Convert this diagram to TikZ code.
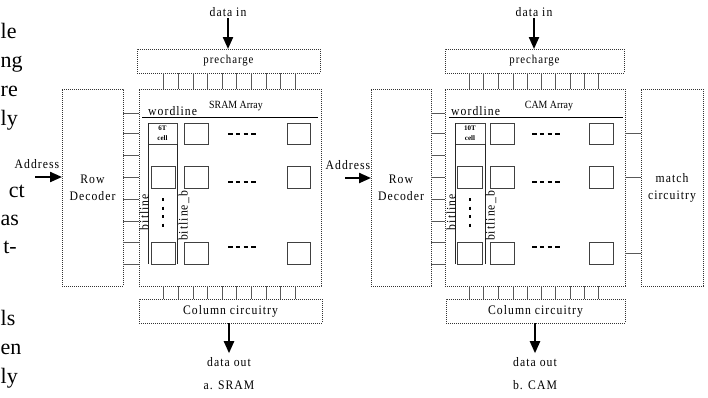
\documentclass[tikz,border=0pt]{standalone}
\usepackage{fontspec}
\setmainfont{Liberation Serif}
\newfontfamily\lblfamily[FakeStretch=0.9, LetterSpace=8]{Liberation Serif}
\newfontfamily\narrowserif[FakeStretch=0.9]{Liberation Serif}
\usetikzlibrary{arrows.meta}
\newcommand\lblfont{\lblfamily\fontsize{13}{17}\selectfont}
\begin{document}
\begin{tikzpicture}[x=1pt,y=-1pt,
  dbox/.style={draw=black!80, line width=0.6pt, dash pattern=on 0.9pt off 1.1pt, inner sep=0pt, outer sep=0pt, anchor=north west, font=\lblfont, align=center},
  cellbox/.style={draw=black!75, line width=0.9pt, inner sep=0pt, outer sep=0pt, anchor=north west, minimum width=24pt, minimum height=22pt},
  tick/.style={draw=black!65, line width=0.8pt},
  bigarrow/.style={line width=2.2pt, -{Triangle[length=12pt,width=10pt]}},
  lbl/.style={font=\lblfont, inner sep=1pt},
  prech/.style={font=\lblfamily\fontsize{12}{14}\selectfont},
  small/.style={font=\narrowserif\fontsize{11}{13}\selectfont, inner sep=1pt},
  celltxt/.style={align=center, font=\bfseries\fontsize{7}{10}\selectfont},
  frag/.style={font=\fontsize{22}{26}\selectfont, inner sep=0pt},
  hdots/.style={line width=2.6pt, dash pattern=on 4.5pt off 3.3pt},
  vdots/.style={line width=2.6pt, dash pattern=on 3pt off 5.5pt},
  bit/.style={draw=black!85, line width=0.8pt},
  wline/.style={draw=black, line width=0.8pt},
  ]
\useasboundingbox (0,0) rectangle (708,397);

% text fragments at the left margin
\node[frag, anchor=base west] (f1) at (0.5,38) {le};
\node[frag, anchor=base west] (f2) at (0.5,67) {ng};
\node[frag, anchor=base west] (f3) at (0.5,96) {re};
\node[frag, anchor=base west] (f4) at (0.5,125) {ly};
\node[frag, anchor=base east] (f5) at (25,197) {ct};
\node[frag, anchor=base west] (f6) at (0.5,225) {as};
\node[frag, anchor=base east] (f7) at (17,253) {t-};
\node[frag, anchor=base west] (f8) at (0.5,325) {ls};
\node[frag, anchor=base west] (f9) at (0.5,354) {en};
\node[frag, anchor=base west] (f10) at (0.5,383) {ly};

% ================= SRAM =================
\node[dbox, prech, minimum width=183pt, minimum height=24pt] (pre1) at (137,49) {precharge};
\node[dbox, minimum width=182pt, minimum height=197pt] (arr1) at (139,89) {};
\node[dbox, minimum width=183pt, minimum height=24pt] (col1) at (139,299) {Column circuitry};
\node[dbox, minimum width=61pt, minimum height=197pt] (rd1) at (62,89) {Row\\Decoder};

\node[lbl] (din1) at (228,12) {data in};
\draw[bigarrow] (din1.south) -- (din1.south |- pre1.north);
\node[lbl] (dout1) at (229,362) {data out};
\draw[bigarrow, shorten >=3pt] (dout1.north |- col1.south) -- (dout1.north);
\node[lbl] (cap1) at (229,385) {a. SRAM};

\node[lbl] (addr1) at (37,164) {Address};
\coordinate (ain1) at (35,177);
\draw[bigarrow] (ain1) -- (ain1 -| rd1.west);

\foreach \y in {113,133,155,177,199,221,242,264}
  \draw[tick] (rd1.east |- 0,\y) -- (arr1.west |- 0,\y);
\foreach \x in {163,178,193,207,222,236,251,266,280,295} {
  \draw[tick] (pre1.south -| \x,0) -- (arr1.north -| \x,0);
  \draw[tick] (arr1.south -| \x,0) -- (col1.north -| \x,0);
}

\node[lbl, anchor=base west, inner sep=0pt] (wl1) at (148,115) {wordline};
\coordinate (wlA1) at (142,117);
\coordinate (wlB1) at (318,117);
\draw[wline] (wlA1) -- (wlB1);
\node[small] (tit1) at (236,106) {SRAM Array};

\node[cellbox, minimum width=29pt, minimum height=21pt, celltxt] (c11a) at (148,123) {6T\\cell};
\node[cellbox, minimum height=21pt] (c12a) at (184,123) {};
\node[cellbox, minimum width=23pt, minimum height=21pt] (c13a) at (287,123) {};
\node[cellbox] (c21a) at (151,166) {};
\node[cellbox] (c22a) at (184,166) {};
\node[cellbox, minimum width=23pt] (c23a) at (287,166) {};
\node[cellbox] (c31a) at (151,242) {};
\node[cellbox] (c32a) at (184,242) {};
\node[cellbox, minimum width=23pt] (c33a) at (287,242) {};

\draw[hdots] (228,134) -- (257,134);
\draw[hdots] (228,182) -- (257,182);
\draw[hdots] (228,247) -- (257,247);
\draw[vdots] (163,198) -- (163,230);

\coordinate (blend1) at (148,264);
\draw[bit] (c11a.north west) -- (c11a.north west |- blend1);
\draw[bit] (c11a.south east) -- (c11a.south east |- blend1);
\node[lbl, rotate=90, anchor=south, inner sep=0pt] (blt1) at (149,212) {bitline};
\node[lbl, rotate=90, anchor=north, inner sep=0.3pt] (blb1) at (178,216) {bitline\_b};

% ================= CAM =================
\node[dbox, prech, minimum width=179pt, minimum height=24pt] (pre2) at (445,49) {precharge};
\node[dbox, minimum width=180pt, minimum height=197pt] (arr2) at (445,89) {};
\node[dbox, minimum width=179pt, minimum height=24pt] (col2) at (446,299) {Column circuitry};
\node[dbox, minimum width=60pt, minimum height=197pt] (rd2) at (371,89) {Row\\Decoder};
\node[dbox, minimum width=62pt, minimum height=197pt] (mc) at (641,89) {match\\circuitry};

\node[lbl] (din2) at (534,12) {data in};
\draw[bigarrow] (din2.south) -- (din2.south |- pre2.north);
\node[lbl] (dout2) at (535,362) {data out};
\draw[bigarrow, shorten >=3pt] (dout2.north |- col2.south) -- (dout2.north);
\node[lbl] (cap2) at (535,385) {b. CAM};

\node[lbl] (addr2) at (348,165) {Address};
\coordinate (ain2) at (345,178);
\draw[bigarrow] (ain2) -- (ain2 -| rd2.west);

\foreach \y in {113,133,155,177,199,221,242,264}
  \draw[tick] (rd2.east |- 0,\y) -- (arr2.west |- 0,\y);
\foreach \x in {469,483,498,513,527,541,555,570,584,598} {
  \draw[tick] (pre2.south -| \x,0) -- (arr2.north -| \x,0);
  \draw[tick] (arr2.south -| \x,0) -- (col2.north -| \x,0);
}
\foreach \y in {133,177,253}
  \draw[tick] (arr2.east |- 0,\y) -- (mc.west |- 0,\y);

\node[lbl, anchor=base west, inner sep=0pt] (wl2) at (451,115) {wordline};
\coordinate (wlA2) at (449,117);
\coordinate (wlB2) at (623,117);
\draw[wline] (wlA2) -- (wlB2);
\node[small] (tit2) at (549,106) {CAM Array};

\node[cellbox, minimum width=30pt, minimum height=21pt, celltxt] (c11b) at (455,123) {10T\\cell};
\node[cellbox, minimum height=21pt] (c12b) at (490,123) {};
\node[cellbox, minimum height=21pt] (c13b) at (589,123) {};
\node[cellbox, minimum width=25pt] (c21b) at (457,166) {};
\node[cellbox] (c22b) at (490,166) {};
\node[cellbox] (c23b) at (589,166) {};
\node[cellbox, minimum width=25pt] (c31b) at (457,242) {};
\node[cellbox] (c32b) at (490,242) {};
\node[cellbox] (c33b) at (589,242) {};

\draw[hdots] (532,134) -- (561,134);
\draw[hdots] (532,182) -- (561,182);
\draw[hdots] (532,247) -- (561,247);
\draw[vdots] (470,198) -- (470,230);

\coordinate (blend2) at (455,264);
\draw[bit] (c11b.north west) -- (c11b.north west |- blend2);
\draw[bit] (c11b.south east) -- (c11b.south east |- blend2);
\node[lbl, rotate=90, anchor=south, inner sep=0pt] (blt2) at (456,212) {bitline};
\node[lbl, rotate=90, anchor=north, inner sep=0.3pt] (blb2) at (485,216) {bitline\_b};
\end{tikzpicture}
\end{document}
